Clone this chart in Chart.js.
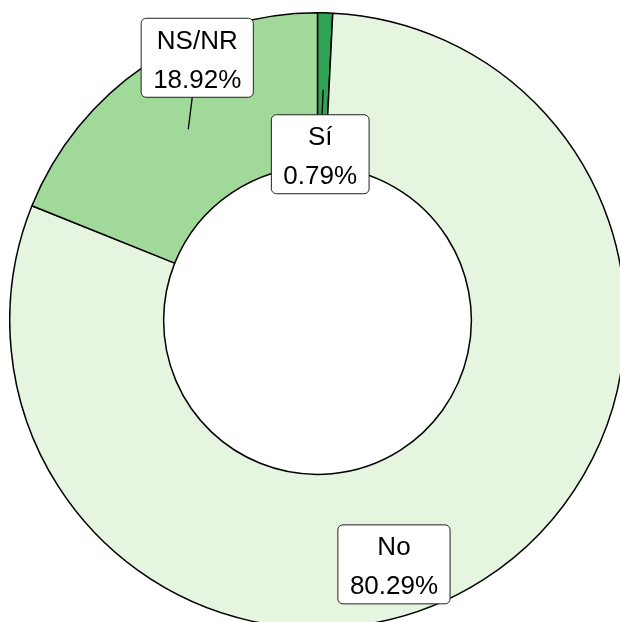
<!DOCTYPE html>
<html>
<head>
<meta charset="utf-8">
<script src="https://cdn.jsdelivr.net/npm/chart.js@4"></script>
<style>
  html, body { margin: 0; padding: 0; background: #ffffff; overflow: hidden; width: 620px; height: 622px; }
  #wrap { position: absolute; left: 0; top: 0; width: 620px; height: 622px; overflow: hidden; }
  #c { position: absolute; left: 8.5px; top: 11.5px; }
</style>
</head>
<body>
<div id="wrap"><canvas id="c" width="617" height="617"></canvas></div>
<script>
// ---- data ----
const categories = ['Sí', 'No', 'NS/NR'];
const percentages = [0.79, 80.29, 18.92];
const sliceColors = ['#31a354', '#e5f5e0', '#a1d99b'];
// label box offsets from each slice's mid-ring anchor (px)
const labelOffsets = [[-3, 64.5], [-48, 49.5], [9, -71.5]];

const repelLabels = {
  id: 'repelLabels',
  afterDatasetsDraw(chart, args, opts) {
    const ctx = chart.ctx;
    const meta = chart.getDatasetMeta(0);
    const fontSize = opts.fontSize;
    ctx.save();
    ctx.font = fontSize + 'px "Liberation Sans", Arial, sans-serif';
    meta.data.forEach((arc, i) => {
      const p = arc.getProps(['x', 'y', 'startAngle', 'endAngle', 'innerRadius', 'outerRadius'], true);
      const mid = (p.startAngle + p.endAngle) / 2;
      const r = (p.innerRadius + p.outerRadius) / 2;
      const ax = p.x + r * Math.cos(mid);
      const ay = p.y + r * Math.sin(mid);
      const off = opts.offsets[i];
      const cx = ax + off[0];
      const cy = ay + off[1];
      const l1 = categories[i];
      const l2 = percentages[i].toFixed(2) + '%';
      const tw = Math.max(ctx.measureText(l1).width, ctx.measureText(l2).width);
      const w = tw + 2 * opts.padX;
      const h = opts.boxH;
      const bx = cx - w / 2, by = cy - h / 2;
      // leader segment from anchor to box edge
      const dx = cx - ax, dy = cy - ay;
      let t = 1;
      if (dx !== 0) t = Math.min(t, Math.abs((w / 2) / dx));
      if (dy !== 0) t = Math.min(t, Math.abs((h / 2) / dy));
      const ex = cx - dx * t, ey = cy - dy * t;
      const segLen = Math.hypot(ex - ax, ey - ay);
      const inside = Math.abs(dx) < w / 2 && Math.abs(dy) < h / 2;
      if (!inside && segLen > opts.minSeg) {
        ctx.beginPath();
        ctx.moveTo(ax, ay);
        ctx.lineTo(ex, ey);
        ctx.strokeStyle = '#000';
        ctx.lineWidth = 1.3;
        ctx.stroke();
      }
      // box
      ctx.beginPath();
      ctx.roundRect(bx, by, w, h, 5);
      ctx.fillStyle = '#ffffff';
      ctx.fill();
      ctx.strokeStyle = '#222';
      ctx.lineWidth = 1;
      ctx.stroke();
      // text
      ctx.fillStyle = '#000';
      ctx.textAlign = 'center';
      ctx.textBaseline = 'alphabetic';
      ctx.fillText(l1, cx, cy - 9);
      ctx.fillText(l2, cx, cy + 30);
    });
    ctx.restore();
  }
};

new Chart(document.getElementById('c'), {
  type: 'doughnut',
  data: {
    labels: categories,
    datasets: [{
      data: percentages,
      backgroundColor: sliceColors,
      borderColor: '#000000',
      borderWidth: 1.5,
      hoverOffset: 0
    }]
  },
  options: {
    responsive: false,
    devicePixelRatio: 1,
    animation: false,
    cutout: '50%',
    rotation: 0,
    layout: { padding: 0 },
    plugins: {
      legend: { display: false },
      tooltip: { enabled: false },
      repelLabels: { offsets: labelOffsets, fontSize: 26, padX: 12, boxH: 79, minSeg: 16 }
    }
  },
  plugins: [repelLabels]
});
</script>
</body>
</html>
